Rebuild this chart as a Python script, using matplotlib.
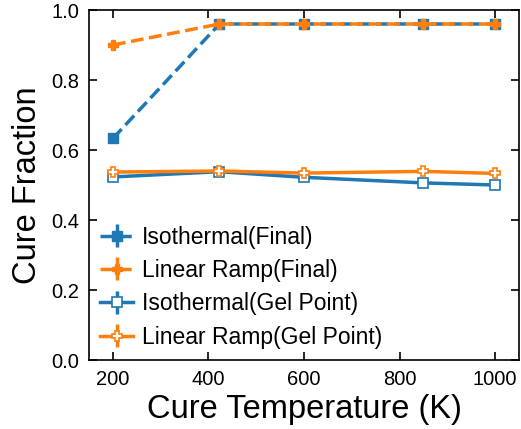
import matplotlib
matplotlib.use("Agg")
import matplotlib.pyplot as plt

temps = [200, 423, 600, 850, 1000]
iso_final = [0.633, 0.96, 0.96, 0.96, 0.96]
ramp_final = [0.90, 0.96, 0.96, 0.96, 0.96]
iso_gel = [0.523, 0.538, 0.522, 0.506, 0.500]
ramp_gel = [0.537, 0.540, 0.534, 0.539, 0.533]
err = [0.005, 0.005, 0.005, 0.005, 0.005]

plt.rcParams['font.family'] = ['Liberation Sans', 'DejaVu Sans']
fig = plt.figure(figsize=(5.21, 4.29), dpi=100)
ax = fig.add_axes([89/521, 1-360/429, 430/521, 350/429])

blue = '#1f77b4'
orange = '#ff7f0e'
lw = 2.5
ax.errorbar(temps, iso_final, yerr=err, color=blue, ls='--', lw=lw, marker='s', ms=6.5,
            label='Isothermal(Final)')
ax.errorbar(temps, ramp_final, yerr=err, color=orange, ls='--', lw=lw, marker='P', ms=7.5,
            label='Linear Ramp(Final)')
ax.errorbar(temps, iso_gel, yerr=err, color=blue, ls='-', lw=lw, marker='s', ms=6.5,
            mfc='white', mec=blue, mew=1.2, label='Isothermal(Gel Point)')
ax.errorbar(temps, ramp_gel, yerr=err, color=orange, ls='-', lw=lw, marker='P', ms=7.5,
            mfc='white', mec=orange, mew=1.2, label='Linear Ramp(Gel Point)')

ax.set_xlim(150, 1050)
ax.set_ylim(0, 1.0)
ax.set_xticks([200, 400, 600, 800, 1000])
ax.set_yticks([0.0, 0.2, 0.4, 0.6, 0.8, 1.0])
ax.set_yticklabels(['0.0', '0.2', '0.4', '0.6', '0.8', '1.0'])
ax.tick_params(direction='in', top=True, right=True, length=6, width=1.2,
               labelsize=14.5, pad=7)
for s in ax.spines.values():
    s.set_linewidth(1.2)
ax.set_xlabel('Cure Temperature (K)', fontsize=23.5, labelpad=4)
ax.set_ylabel('Cure Fraction', fontsize=23.5, labelpad=6)
ax.legend(loc='lower left', frameon=False, fontsize=16.5, handlelength=1.4,
          handletextpad=0.4, labelspacing=0.45, borderaxespad=0.1)

fig.savefig('out.png', dpi=100)
